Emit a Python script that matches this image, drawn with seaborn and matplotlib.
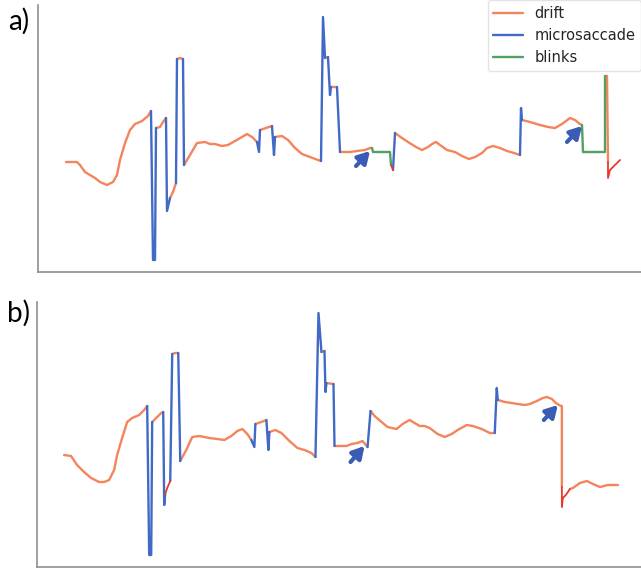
import numpy as np
import pandas as pd
import matplotlib
matplotlib.use("Agg")
import matplotlib.pyplot as plt
import seaborn as sns

# ---- Eye-position traces, split into labelled runs (time in samples, vertical screen position) ----
# Panel a: detection with blinks
a_kind = ["drift", "microsaccade", "drift", "microsaccade", "drift", "microsaccade", "drift",
          "microsaccade", "drift", "microsaccade", "drift", "microsaccade", "drift", "microsaccade",
          "drift", "microsaccade", "drift", "microsaccade", "drift", "blinks", "unlabelled",
          "microsaccade", "drift", "microsaccade", "drift", "blinks", "drift", "unlabelled"]
a_time = [
    [28, 39, 42, 47, 52, 57, 62, 69, 75, 79, 82, 87, 92, 97, 104, 110, 113],
    [113, 115, 117, 118],
    [118, 122, 125, 128],
    [128, 129, 132],
    [132, 135, 138],
    [138, 139],
    [139, 142, 145],
    [145, 146],
    [146, 152, 159, 167, 172, 177, 184, 190, 197, 204, 209, 214, 219],
    [219, 221, 222],
    [222, 228, 234],
    [234, 236, 237],
    [237, 244, 250, 257, 264, 272, 280, 283],
    [283, 285, 287],
    [287, 290],
    [290, 292, 293],
    [293, 299],
    [299, 302],
    [302, 312, 319, 327, 332, 334],
    [334, 335, 352, 353],
    [353, 355],
    [355, 357],
    [357, 364, 370, 378, 384, 390, 394, 398, 402, 409, 417, 424, 431, 437, 444, 449, 455,
     462, 469, 476, 482],
    [482, 483, 484],
    [484, 492, 502, 510, 517, 524, 532, 537, 542, 544],
    [544, 545, 567, 567],
    [567, 569, 570],
    [570, 570, 572, 577, 582],
]
a_pos = [
    [162, 162, 165, 172, 175, 178, 182, 185, 182, 175, 160, 143, 130, 124, 121, 116, 111],
    [111, 260, 260, 128],
    [128, 127, 122, 118],
    [118, 211, 198],
    [198, 192, 183],
    [183, 59],
    [59, 58, 59],
    [59, 165],
    [165, 155, 143, 142, 144, 144, 146, 145, 141, 137, 134, 137, 142],
    [142, 152, 130],
    [130, 128, 126],
    [126, 155, 137],
    [137, 136, 140, 148, 154, 157, 160, 161],
    [161, 17, 58],
    [58, 57],
    [57, 95, 87],
    [87, 87],
    [87, 152],
    [152, 152, 151, 150, 148, 148],
    [148, 152, 152, 165],
    [165, 170],
    [170, 133],
    [133, 138, 142, 147, 150, 147, 144, 142, 145, 150, 152, 156, 159, 157, 153, 148, 146,
     148, 151, 153, 155],
    [155, 108, 120],
    [120, 122, 125, 127, 128, 124, 118, 120, 124, 125],
    [125, 152, 152, 76],
    [76, 76, 162],
    [162, 178, 170, 165, 160],
]

# Panel b: detection without the blink class
b_kind = ["drift", "microsaccade", "drift", "microsaccade", "unlabelled", "microsaccade", "drift",
          "microsaccade", "drift", "microsaccade", "drift", "microsaccade", "drift", "microsaccade",
          "drift", "microsaccade", "drift", "microsaccade", "drift", "microsaccade", "drift",
          "microsaccade", "drift", "unlabelled", "drift"]
b_time = [
    [27, 34, 40, 47, 54, 62, 67, 72, 77, 80, 85, 90, 95, 102, 107, 110],
    [110, 112, 114, 115],
    [115, 119, 124, 126],
    [126, 127, 128],
    [128, 130, 133],
    [133, 135],
    [135, 138, 141],
    [141, 143],
    [143, 149, 155, 162, 172, 180, 187, 194, 200, 205, 210, 214],
    [214, 217, 218],
    [218, 224, 229],
    [229, 231, 232],
    [232, 238, 244, 252, 260, 267, 274, 278],
    [278, 281, 284],
    [284, 287],
    [287, 288, 289],
    [289, 296],
    [296, 297],
    [297, 302, 309, 314, 320, 325, 330],
    [330, 333],
    [333, 337, 344, 350, 359, 365, 372, 382, 387, 392, 400, 407, 414, 420, 429, 435, 444,
     452, 457],
    [457, 459, 460],
    [460, 467, 474, 480, 487, 492, 499, 505, 509, 514, 518, 523, 524, 524],
    [524, 524, 525, 528, 532],
    [532, 535, 542, 549, 555, 562, 570, 580],
]
b_pos = [
    [160, 161, 170, 177, 183, 187, 187, 185, 175, 160, 143, 127, 123, 120, 115, 111],
    [111, 260, 260, 127],
    [127, 123, 118, 117],
    [117, 210, 199],
    [199, 193, 186],
    [186, 59],
    [59, 58, 58],
    [58, 166],
    [166, 155, 142, 141, 143, 144, 145, 141, 136, 134, 139, 145],
    [145, 152, 129],
    [129, 127, 125],
    [125, 155, 137],
    [137, 135, 138, 146, 153, 155, 158, 162],
    [162, 18, 57],
    [57, 56],
    [56, 97, 88],
    [88, 89],
    [89, 151],
    [151, 151, 151, 149, 148, 146, 152],
    [152, 116],
    [116, 121, 127, 132, 134, 129, 125, 131, 131, 133, 139, 142, 139, 135, 130, 131, 134,
     138, 138],
    [138, 93, 105],
    [105, 107, 108, 109, 110, 109, 106, 103, 102, 104, 108, 111, 111, 192],
    [192, 212, 203, 200, 194],
    [194, 193, 188, 186, 189, 192, 190, 190],
]

classes = ["drift", "microsaccade", "blinks"]
palette = {"drift": "#f4845c", "microsaccade": "#4169c6", "blinks": "#52a062"}
unlabelled_color = "#e8392c"
arrow_color = "#3a5cb4"

# arrows pointing at the ends of fixations (tail -> head, in data units)
a_arrows = [((318, 166), (332, 151)), ((529, 142), (544, 126))]
b_arrows = [((313, 167), (327, 151)), ((506, 125), (520, 110))]


def runs_to_frame(kinds, times, positions):
    rows = []
    for seg, (k, ts, ps) in enumerate(zip(kinds, times, positions)):
        for t, p in zip(ts, ps):
            rows.append((seg, k, t, p))
    return pd.DataFrame(rows, columns=["seg", "kind", "time", "position"])


sns.set_style("white")
fig = plt.figure(figsize=(6.41, 5.69), dpi=100)
W, H = 641, 569
ax_a = fig.add_axes([38 / W, 1 - 272 / H, (W - 38) / W, 267 / H])
ax_b = fig.add_axes([37 / W, 1 - 567 / H, (W - 37) / W, 265 / H])

for ax, kinds, times, positions, arrows, ylim, show_legend in [
    (ax_a, a_kind, a_time, a_pos, a_arrows, (272, 5), True),
    (ax_b, b_kind, b_time, b_pos, b_arrows, (272, 7), False),
]:
    df = runs_to_frame(kinds, times, positions)
    sns.lineplot(data=df[df["kind"] != "unlabelled"], x="time", y="position", hue="kind",
                 hue_order=classes, palette=palette, units="seg", estimator=None, sort=False,
                 linewidth=1.7, legend=show_legend, ax=ax)
    sns.lineplot(data=df[df["kind"] == "unlabelled"], x="time", y="position", units="seg",
                 estimator=None, sort=False, color=unlabelled_color, linewidth=1.3,
                 legend=False, ax=ax)
    for tail, head in arrows:
        ax.annotate("", xy=head, xytext=tail,
                    arrowprops=dict(arrowstyle="-|>,head_length=0.7,head_width=0.4",
                                    color=arrow_color, lw=3.0, shrinkA=0, shrinkB=0))
    ax.set_xlim(0, W - 38)
    ax.set_ylim(*ylim)
    ax.set_xticks([])
    ax.set_yticks([])
    ax.set_xlabel("")
    ax.set_ylabel("")
    for side in ("top", "right"):
        ax.spines[side].set_visible(False)
    for side in ("left", "bottom"):
        ax.spines[side].set_color("#8f8f8f")
        ax.spines[side].set_linewidth(1.2)

handles, labels = ax_a.get_legend_handles_labels()
ax_a.legend(handles=handles, labels=labels, loc="upper right", bbox_to_anchor=(1.0, 1.0),
            bbox_transform=fig.transFigure, borderaxespad=0.0, fontsize=10.5, frameon=True,
            edgecolor="#dddddd", fancybox=True)

fig.text(8 / W, 1 - 21 / H, "a)", fontsize=20, family="Lato", color="black",
         va="center", ha="left")
fig.text(7 / W, 1 - 313 / H, "b)", fontsize=20, family="Lato", color="black",
         va="center", ha="left")

fig.savefig("out.png", dpi=100)
